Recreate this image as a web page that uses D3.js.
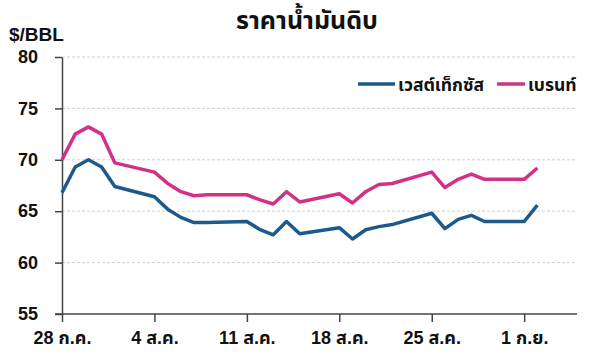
<!DOCTYPE html>
<html>
<head>
<meta charset="utf-8">
<script src="https://cdn.jsdelivr.net/npm/d3@7"></script>
<style>
  html, body { margin: 0; padding: 0; background: #fff; }
  svg { display: block; }
  text { font-family: "Liberation Sans", Arial, "Noto Sans Thai", "Noto Sans", sans-serif; font-weight: bold; fill: #111; }
</style>
</head>
<body>
<svg id="chart" width="600" height="356"></svg>
<script>
const dates = ["2025-07-28","2025-07-29","2025-07-30","2025-07-31","2025-08-01",
  "2025-08-04","2025-08-05","2025-08-06","2025-08-07","2025-08-08",
  "2025-08-11","2025-08-12","2025-08-13","2025-08-14","2025-08-15",
  "2025-08-18","2025-08-19","2025-08-20","2025-08-21","2025-08-22",
  "2025-08-25","2025-08-26","2025-08-27","2025-08-28","2025-08-29",
  "2025-09-01","2025-09-02"];
const wti = [66.8,69.3,70.0,69.3,67.4,
  66.4,65.2,64.4,63.9,63.9,
  64.0,63.2,62.7,64.0,62.8,
  63.4,62.3,63.2,63.5,63.7,
  64.8,63.3,64.2,64.6,64.0,
  64.0,65.6];
const brent = [70.0,72.5,73.2,72.5,69.7,
  68.8,67.7,66.9,66.5,66.6,
  66.6,66.1,65.7,66.9,65.9,
  66.7,65.8,66.9,67.6,67.7,
  68.8,67.3,68.1,68.6,68.1,
  68.1,69.2];
const xTickDates = ["2025-07-28","2025-08-04","2025-08-11","2025-08-18","2025-08-25","2025-09-01"];
const xTickLabels = ["28 ก.ค.","4 ส.ค.","11 ส.ค.","18 ส.ค.","25 ส.ค.","1 ก.ย."];
const yTicks = [55,60,65,70,75,80];
const seriesNames = ["เวสต์เท็กซัส","เบรนท์"];
const seriesColors = ["#1c5a8c","#d3308a"];
const title = "ราคาน้ำมันดิบ";
const unitLabel = "$/BBL";

const parse = d3.utcParse("%Y-%m-%d");
const svg = d3.select("#chart");

const x = d3.scaleUtc().domain([parse("2025-07-28"), parse("2025-09-05")]).range([62, 577]);
const y = d3.scaleLinear().domain([55, 80]).range([314, 57]);

// gridlines
svg.append("g").selectAll("line").data(yTicks.filter(v => v > 55)).join("line")
  .attr("x1", 62).attr("x2", 577)
  .attr("y1", d => y(d)).attr("y2", d => y(d))
  .attr("stroke", "#cfcfcf").attr("stroke-width", 1).attr("stroke-dasharray", "3,2");

// y axis
const yAxis = svg.append("g").attr("transform", "translate(62,0)")
  .call(d3.axisLeft(y).tickValues(yTicks).tickSize(7).tickPadding(17).tickSizeOuter(0));
yAxis.select(".domain").attr("stroke", "#444").attr("stroke-width", 1.5);
yAxis.selectAll(".tick line").attr("stroke", "#444").attr("stroke-width", 1.5);
yAxis.selectAll("text").style("font-size", "18px").style("font-weight", "bold").attr("fill", "#111");

// x axis
const xAxis = svg.append("g").attr("transform", "translate(0,314)")
  .call(d3.axisBottom(x).tickValues(xTickDates.map(parse))
    .tickFormat((d, i) => xTickLabels[i]).tickSize(8).tickPadding(9).tickSizeOuter(0));
xAxis.select(".domain").attr("stroke", "#444").attr("stroke-width", 1.5)
  .attr("d", "M55,0H577");
xAxis.selectAll(".tick line").attr("stroke", "#444").attr("stroke-width", 1.5);
xAxis.selectAll("text").style("font-size", "18px").style("font-weight", "bold").attr("fill", "#111");

// lines
const line = d3.line().x((d, i) => x(parse(dates[i]))).y(d => y(d));
[wti, brent].forEach((s, k) => {
  svg.append("path").datum(s).attr("d", line)
    .attr("fill", "none").attr("stroke", seriesColors[k])
    .attr("stroke-width", 3.5).attr("stroke-linejoin", "round");
});

// title
svg.append("text").attr("x", 307).attr("y", 29).attr("text-anchor", "middle")
  .style("font-size", "25px").text(title);
svg.append("text").attr("x", 9).attr("y", 41)
  .style("font-size", "19px").text(unitLabel);

// legend
const legendItems = [{x: 358, w: 37}, {x: 497, w: 28}];
legendItems.forEach((it, k) => {
  svg.append("line").attr("x1", it.x).attr("x2", it.x + it.w).attr("y1", 84).attr("y2", 84)
    .attr("stroke", seriesColors[k]).attr("stroke-width", 3.5);
  svg.append("text").attr("x", it.x + it.w + 3).attr("y", 91)
    .style("font-size", "17.5px").text(seriesNames[k]);
});
</script>
</body>
</html>
